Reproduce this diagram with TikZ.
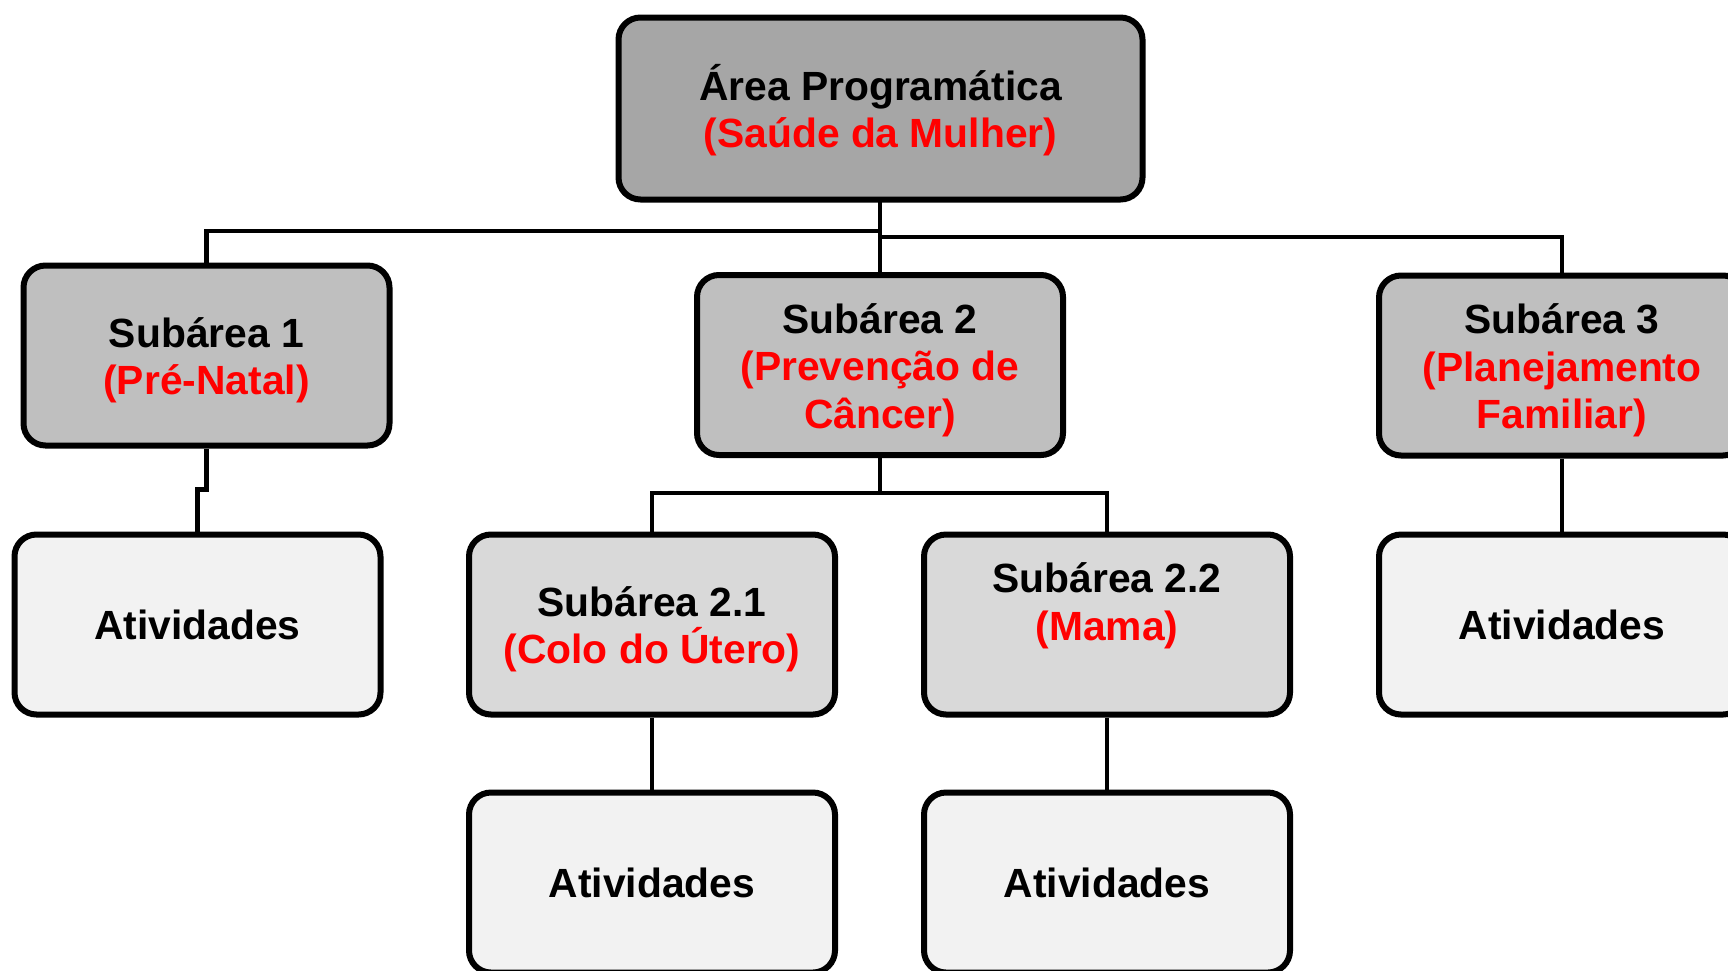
\documentclass[tikz,border=0pt]{standalone}
\usepackage{fontspec}
\setmainfont{Liberation Sans}
\tikzset{
  caixa/.style={draw=black, line width=3pt, rounded corners=11pt, align=center, font=\fontsize{20.4}{23.7}\selectfont\bfseries, minimum width=183pt, minimum height=90pt, inner sep=0pt},
  areabox/.style={caixa, fill={rgb,255:red,166;green,166;blue,166}, minimum width=262pt, minimum height=91pt},
  subbox/.style={caixa, fill={rgb,255:red,191;green,191;blue,191}},
  subsubbox/.style={caixa, fill={rgb,255:red,217;green,217;blue,217}},
  ativbox/.style={caixa, fill={rgb,255:red,242;green,242;blue,242}},
  linha/.style={line width=2.3pt, black}
}
\newcommand{\titulo}[1]{\rule{0pt}{19.9pt}#1}
\newcommand{\verm}[1]{{\color{red}#1}}
\begin{document}
\begin{tikzpicture}[x=0.5pt,y=0.5pt,yscale=-1,xscale=1]
\useasboundingbox (0,0) rectangle (1728,970);
\clip (0,0) rectangle (1728,970);

% junction points
\coordinate (jL) at (880,231);
\coordinate (jR) at (880,237);
\coordinate (j2) at (880,493);

% connectors
\draw [linha] (880,108) -- (880,365);
\draw [linha] (jL) -| (206.5,355.5);
\draw [linha] (jR) -| (1562,365.5);

% boxes
\node [areabox] (area) at (880.5,108.5) {\titulo{Área Programática}\\\verm{(Saúde da Mulher)}};
\node [subbox] (sub1) at (206.5,355.5) {\titulo{Subárea 1}\\\verm{(Pré-Natal)}};
\node [subbox] (sub2) at (880,365) {\titulo{Subárea 2}\\\verm{(Prevenção de}\\\verm{Câncer)}};
\node [subbox] (sub3) at (1562,365.5) {\titulo{Subárea 3}\\\verm{(Planejamento}\\\verm{Familiar)}};
\node [ativbox] (ativ1) at (197.5,624.5) {Atividades};
\node [subsubbox] (sub21) at (652,624.5) {\titulo{Subárea 2.1}\\\verm{(Colo do Útero)}};
\node [subsubbox] (sub22) at (1107,624.5) {\titulo{Subárea 2.2}\\\verm{(Mama)}\\\rule[-4.4pt]{0pt}{0pt}};
\node [ativbox] (ativ3) at (1562,624.5) {Atividades};
\node [ativbox] (ativ21) at (652,882.5) {Atividades};
\node [ativbox] (ativ22) at (1107,882.5) {Atividades};

% lower connectors
\draw [linha] (sub1.south) -- ++(0,41) -| (ativ1.north);
\draw [linha] (sub2.south) -- (j2);
\draw [linha] (sub21.north) |- (j2) -| (sub22.north);
\draw [linha] (sub3.south) -- (ativ3.north);
\draw [linha] (sub21.south) -- (ativ21.north);
\draw [linha] (sub22.south) -- (ativ22.north);

\end{tikzpicture}
\end{document}
